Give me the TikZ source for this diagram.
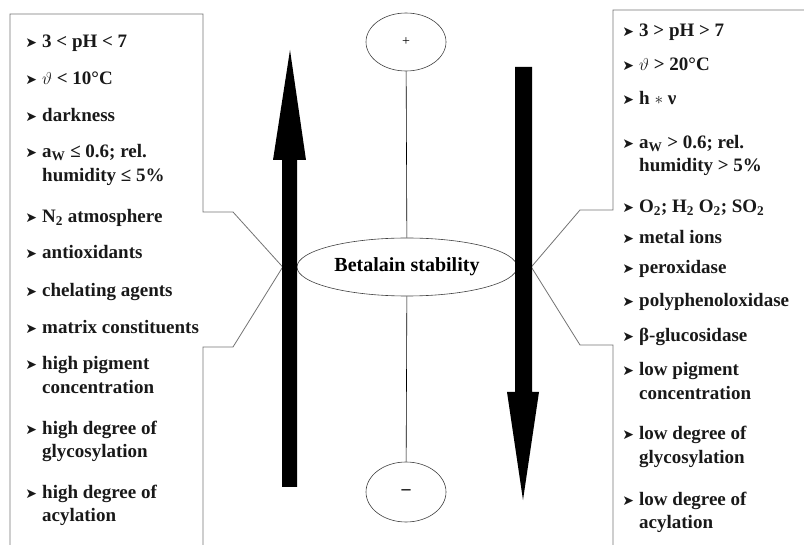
\documentclass[tikz,border=0pt]{standalone}
\usepackage{fontspec}
\setmainfont{Liberation Serif}
\newfontfamily\symfont{DejaVu Sans}
\usetikzlibrary{shapes.geometric,positioning,calc}
\newcommand{\bul}{\makebox[0pt][r]{{\symfont\fontsize{14}{14}\selectfont ➤}\hspace{5pt}}}

\begin{document}
\begin{tikzpicture}[x=1pt,y=-1pt,
    item/.style={anchor=base west,align=left,inner sep=0pt,text=black!90,
      font=\bfseries\fontsize{19}{23.5}\selectfont},
    oval/.style={draw=black!75,ellipse,inner sep=0pt,line width=0.6pt},
    frame/.style={draw=black!55,line width=0.8pt}]
  \useasboundingbox (0,0) rectangle (804,545);
  % centre column
  \node[oval,minimum width=220pt,minimum height=58pt,
    font=\bfseries\fontsize{20}{24}\selectfont] (stab) at (407,267) {Betalain stability};
  \node[oval,minimum width=80pt,minimum height=58pt,font=\fontsize{14}{14}\selectfont] (plus) at (406,42) {+};
  \node[oval,minimum width=80pt,minimum height=60pt,font=\bfseries\fontsize{18}{18}\selectfont] (minus) at (406,492) {–};
  \draw[line width=0.6pt] (plus) -- (stab);
  \draw[line width=0.6pt] (stab) -- (minus);
  \coordinate (ljoin) at ($(stab.west)+(-14,0)$);
  \coordinate (rjoin) at ($(stab.east)+(14,0)$);
  % frames
  \draw[frame] (10,545) -- (10,14) -- (203,14) -- (203,212) -- (233,212) -- (ljoin)
    -- (233,347) -- (203,347) -- (203,545);
  \draw[frame] (613,545) -- (613,345) -- (580,345) -- (rjoin)
    -- (580,210) -- (613,210) -- (613,10) -- (804,10);
  % big arrows
  \fill (282,487) -- (282,160) -- (273,160) -- (290,50) -- (306,160) -- (297,160) -- (297,487) -- cycle;
  \fill (515,67) -- (532,67) -- (532,392) -- (539,392) -- (523,500) -- (507,392) -- (515,392) -- cycle;
  % stabilising factors (y = baseline of last line)
  \foreach \y/\t [count=\i] in {48/{3 < pH < 7}, 85/{$\vartheta$ < 10°C}, 122/{darkness},
      181.5/{a\textsubscript{W} ≤ 0.6; rel.\\humidity ≤ 5\%}, 223/{N\textsubscript{2} atmosphere},
      259/{antioxidants}, 297/{chelating agents}, 334/{matrix constituents},
      393.5/{high pigment\\concentration}, 457.5/{high degree of\\glycosylation},
      521.5/{high degree of\\acylation}}{
    \node[item] (pro\i) at (42,\y) {\bul\t};
  }
  % destabilising factors
  \foreach \y/\t [count=\i] in {37/{3 > pH > 7}, 71/{$\vartheta$ > 20°C}, 105/{h $*$ ν},
      172/{a\textsubscript{W} > 0.6; rel.\\humidity > 5\%},
      213/{O\textsubscript{2}; H\textsubscript{2} O\textsubscript{2}; SO\textsubscript{2}},
      244/{metal ions}, 274/{peroxidase}, 307/{polyphenoloxidase}, 342/{β-glucosidase},
      399.5/{low pigment\\concentration}, 463.5/{low degree of\\glycosylation},
      528.5/{low degree of\\acylation}}{
    \node[item] (con\i) at (639,\y) {\bul\t};
  }
\end{tikzpicture}
\end{document}
